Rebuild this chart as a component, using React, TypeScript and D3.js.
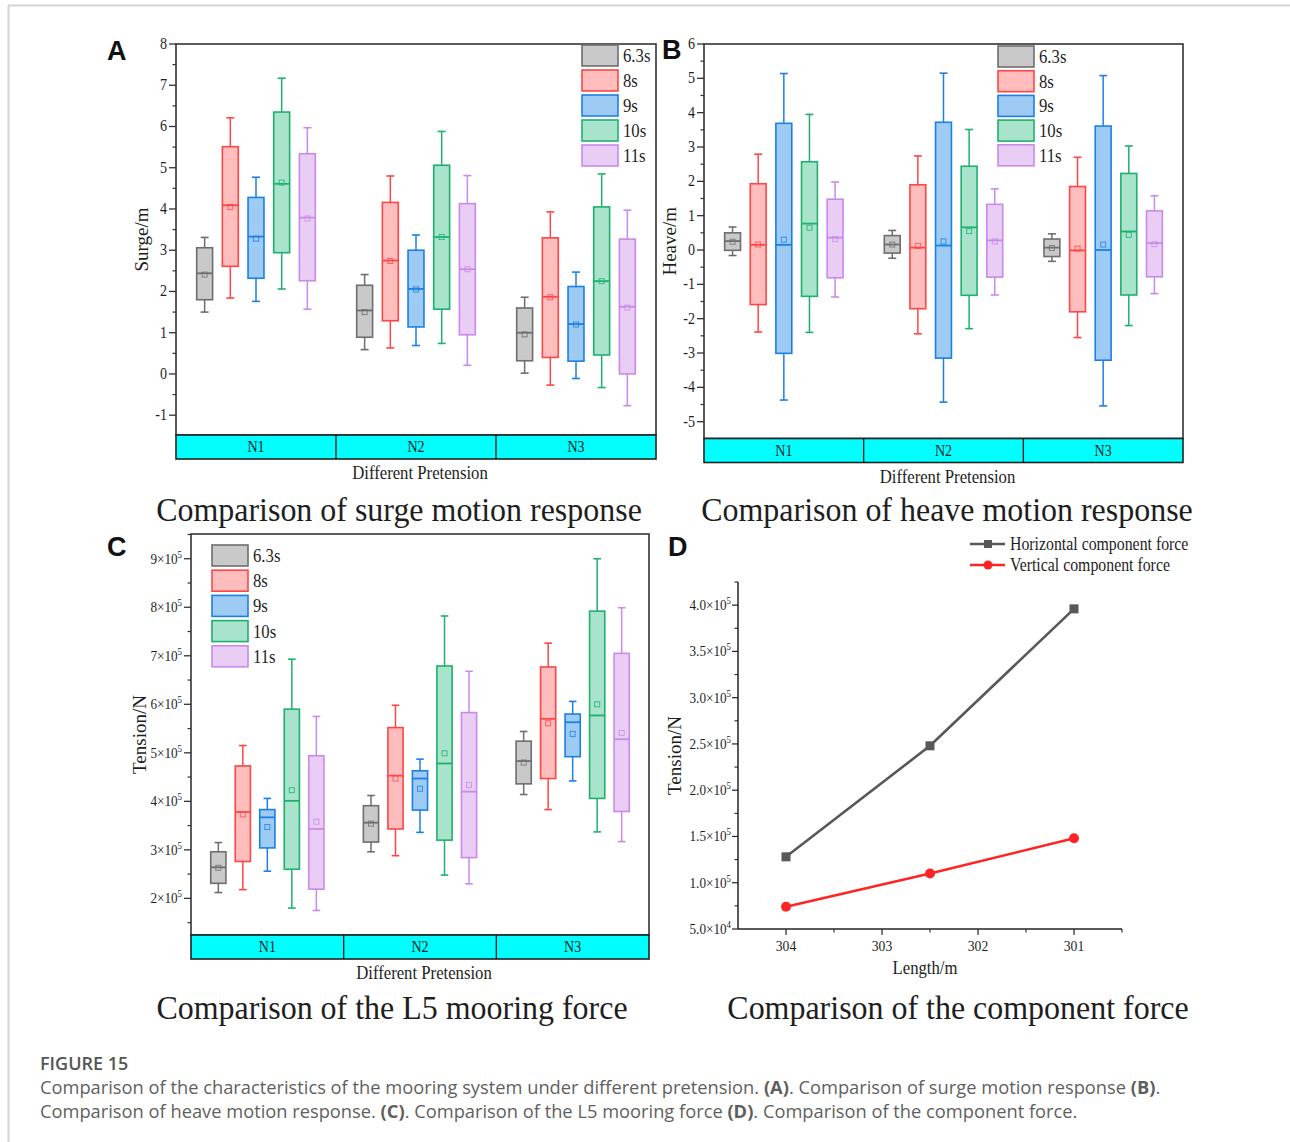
import React from "react";
import * as d3 from "d3";

// ---------- data ----------
const periods = ["6.3s", "8s", "9s", "10s", "11s"];
const groups = ["N1", "N2", "N3"];
const fills = ["#c9c9c9", "#ffbdbd", "#9ecbf4", "#a8e3cb", "#e9cdf5"];
const strokes = ["#6e6e6e", "#ff4646", "#1c7fe6", "#1fb070", "#c98aea"];

// each entry: [min, q1, median, q3, max, mean]
const surgeN1 = [
  [1.5, 1.8, 2.44, 3.06, 3.31, 2.41],
  [1.84, 2.61, 4.09, 5.51, 6.21, 4.05],
  [1.76, 2.32, 3.33, 4.28, 4.77, 3.28],
  [2.06, 2.94, 4.61, 6.35, 7.17, 4.64],
  [1.57, 2.26, 3.79, 5.34, 5.97, 3.77],
];
const surgeN2 = [
  [0.59, 0.89, 1.54, 2.15, 2.41, 1.5],
  [0.63, 1.29, 2.75, 4.16, 4.8, 2.74],
  [0.69, 1.14, 2.06, 3.0, 3.37, 2.05],
  [0.74, 1.57, 3.32, 5.06, 5.88, 3.32],
  [0.21, 0.95, 2.54, 4.13, 4.81, 2.54],
];
const surgeN3 = [
  [0.02, 0.32, 1.0, 1.6, 1.86, 0.96],
  [-0.27, 0.4, 1.87, 3.3, 3.93, 1.86],
  [-0.11, 0.31, 1.21, 2.12, 2.47, 1.2],
  [-0.33, 0.46, 2.25, 4.05, 4.85, 2.25],
  [-0.77, 0.0, 1.63, 3.27, 3.97, 1.61],
];

const heaveN1 = [
  [-0.16, -0.01, 0.26, 0.5, 0.67, 0.24],
  [-2.39, -1.59, 0.15, 1.93, 2.79, 0.16],
  [-4.37, -3.01, 0.15, 3.69, 5.14, 0.3],
  [-2.4, -1.35, 0.77, 2.57, 3.95, 0.65],
  [-1.37, -0.81, 0.36, 1.48, 1.98, 0.32],
];
const heaveN2 = [
  [-0.24, -0.09, 0.16, 0.42, 0.57, 0.16],
  [-2.44, -1.71, 0.07, 1.9, 2.74, 0.12],
  [-4.43, -3.15, 0.13, 3.72, 5.15, 0.25],
  [-2.29, -1.32, 0.66, 2.44, 3.51, 0.55],
  [-1.31, -0.79, 0.28, 1.33, 1.78, 0.25],
];
const heaveN3 = [
  [-0.33, -0.19, 0.07, 0.32, 0.47, 0.06],
  [-2.55, -1.8, -0.01, 1.85, 2.7, 0.04],
  [-4.54, -3.21, 0.0, 3.61, 5.08, 0.16],
  [-2.2, -1.31, 0.54, 2.23, 3.03, 0.44],
  [-1.27, -0.78, 0.2, 1.14, 1.58, 0.17],
];

const tensionN1 = [
  [212000, 231000, 264000, 296000, 315000, 263000],
  [218000, 276000, 378000, 473000, 515000, 373000],
  [256000, 304000, 367000, 383000, 406000, 347000],
  [180000, 260000, 401000, 590000, 693000, 423000],
  [175000, 219000, 343000, 494000, 575000, 358000],
];
const tensionN2 = [
  [296000, 316000, 356000, 391000, 412000, 354000],
  [288000, 343000, 453000, 552000, 598000, 447000],
  [336000, 382000, 447000, 463000, 487000, 426000],
  [248000, 320000, 478000, 679000, 782000, 499000],
  [230000, 284000, 420000, 583000, 668000, 434000],
];
const tensionN3 = [
  [414000, 436000, 483000, 524000, 544000, 480000],
  [383000, 447000, 570000, 677000, 726000, 561000],
  [442000, 492000, 563000, 580000, 606000, 539000],
  [337000, 406000, 577000, 792000, 900000, 600000],
  [317000, 379000, 528000, 705000, 799000, 541000],
];

const surgeTicks = [-1, 0, 1, 2, 3, 4, 5, 6, 7, 8];
const heaveTicks = [-5, -4, -3, -2, -1, 0, 1, 2, 3, 4, 5, 6];
const tensionTicks = [200000, 300000, 400000, 500000, 600000, 700000, 800000, 900000];

const lengths = [304, 302.5, 301];
const horizontalForce = [128000, 248000, 396000];
const verticalForce = [74000, 110000, 148000];
const lengthTicks = [304, 303, 302, 301];
const forceTicks = [50000, 100000, 150000, 200000, 250000, 300000, 350000, 400000];

// ---------- helpers ----------
const CX = 0.88;
const SERIF = "'Liberation Serif', 'Times New Roman', serif";
const INK = "#1e1e1e";

function CText({ x, y, size, anchor = "start", children, fill = INK, baseline = "auto", weight = "normal", family = SERIF, sx = CX }: any) {
  return (
    <text
      transform={`translate(${x},${y}) scale(${sx},1)`}
      fontSize={size}
      textAnchor={anchor}
      fontFamily={family}
      fill={fill}
      fontWeight={weight}
      dominantBaseline={baseline}
    >
      {children}
    </text>
  );
}

function sci(v: number, digits: number) {
  const e = Math.floor(Math.log10(v) + 1e-9);
  const m = v / Math.pow(10, e);
  return (
    <>
      {m.toFixed(digits)}×10
      <tspan dy={-6} fontSize={10}>{e}</tspan>
    </>
  );
}

function BoxPanel(props: any) {
  const {
    left, right, top, bottom, stripH, domain, major, minor, fmt, data,
    ylabel, ylabelX, legendX, legendY, legendStep, tickSize,
  } = props;
  const y = d3.scaleLinear().domain(domain).range([bottom, top]);
  const gx = d3.scaleBand<string>().domain(groups).range([left, right]);
  const bx = d3
    .scaleBand<string>()
    .domain(periods)
    .range([0, gx.bandwidth()])
    .paddingInner(0.38)
    .paddingOuter(0.805);
  const bw = bx.bandwidth();
  const cap = bw * 0.5;
  const minorIn = minor.filter((t: number) => t >= domain[0] && t <= domain[1]);

  return (
    <g>
      {/* boxes */}
      {groups.map((g, gi) =>
        periods.map((p, pi) => {
          const [mn, q1, md, q3, mx, mean] = data[gi][pi];
          const x0 = (gx(g) as number) + (bx(p) as number);
          const cx = x0 + bw / 2;
          const s = strokes[pi];
          return (
            <g key={g + p}>
              <line x1={cx} x2={cx} y1={y(mx)} y2={y(q3)} stroke={s} strokeWidth={1.5} />
              <line x1={cx} x2={cx} y1={y(q1)} y2={y(mn)} stroke={s} strokeWidth={1.5} />
              <line x1={cx - cap / 2} x2={cx + cap / 2} y1={y(mx)} y2={y(mx)} stroke={s} strokeWidth={1.6} />
              <line x1={cx - cap / 2} x2={cx + cap / 2} y1={y(mn)} y2={y(mn)} stroke={s} strokeWidth={1.6} />
              <rect x={x0} y={y(q3)} width={bw} height={y(q1) - y(q3)} fill={fills[pi]} stroke={s} strokeWidth={1.6} />
              <line x1={x0} x2={x0 + bw} y1={y(md)} y2={y(md)} stroke={s} strokeWidth={1.8} />
              <rect x={cx - 2.5} y={y(mean) - 2.5} width={5} height={5} fill="none" stroke={s} strokeWidth={1} opacity={0.8} />
            </g>
          );
        })
      )}
      {/* frame */}
      <rect x={left} y={top} width={right - left} height={bottom - top} fill="none" stroke="#333" strokeWidth={1.6} />
      {/* strip */}
      <rect x={left} y={bottom} width={right - left} height={stripH} fill="#00ffff" stroke="#222" strokeWidth={1.6} />
      {groups.slice(1).map((g) => (
        <line key={g} x1={gx(g)} x2={gx(g)} y1={bottom} y2={bottom + stripH} stroke="#222" strokeWidth={1.4} />
      ))}
      {groups.map((g) => (
        <CText key={g} x={(gx(g) as number) + gx.bandwidth() / 2} y={bottom + stripH / 2 + 5} size={16} anchor="middle">
          {g}
        </CText>
      ))}
      {/* y ticks */}
      {minorIn.map((t: number) => (
        <line key={"m" + t} x1={left - 3.5} x2={left} y1={y(t)} y2={y(t)} stroke="#333" strokeWidth={1.2} />
      ))}
      {major.map((t: number) => (
        <g key={"M" + t}>
          <line x1={left - 7} x2={left} y1={y(t)} y2={y(t)} stroke="#333" strokeWidth={1.3} />
          <CText x={left - 9} y={y(t) + 5} size={tickSize} anchor="end">
            {fmt(t)}
          </CText>
        </g>
      ))}
      {/* axis labels */}
      <text
        transform={`translate(${ylabelX},${(top + bottom) / 2}) rotate(-90)`}
        fontSize={19}
        textAnchor="middle"
        fontFamily={SERIF}
        fill={INK}
        dominantBaseline="central"
      >
        {ylabel}
      </text>
      <CText x={(left + right) / 2 + 4} y={bottom + stripH + 20} size={19} anchor="middle">
        Different Pretension
      </CText>
      {/* legend */}
      {periods.map((p, i) => (
        <g key={"lg" + p}>
          <rect x={legendX} y={legendY + i * legendStep} width={36} height={21} fill={fills[i]} stroke={strokes[i]} strokeWidth={1.6} />
          <CText x={legendX + 41} y={legendY + i * legendStep + 17} size={19}>
            {p}
          </CText>
        </g>
      ))}
    </g>
  );
}

function LinePanel() {
  const left = 738, right = 1122, top = 582, bottom = 929;
  const x = d3.scaleLinear().domain([304.5, 300.5]).range([left, right]);
  const y = d3.scaleLinear().domain([50000, 425000]).range([bottom, top]);
  const line = d3
    .line<number>()
    .x((_, i) => x(lengths[i]))
    .y((d) => y(d));
  const gray = "#585858";
  const red = "#ff2424";
  const xMinor = [303.5, 302.5, 301.5, 300.5];
  const yMinor = d3.range(75000, 430000, 50000);
  return (
    <g>
      <path d={line(horizontalForce) || ""} fill="none" stroke={gray} strokeWidth={2.6} />
      <path d={line(verticalForce) || ""} fill="none" stroke={red} strokeWidth={2.6} />
      {horizontalForce.map((v, i) => (
        <rect key={"h" + i} x={x(lengths[i]) - 4.5} y={y(v) - 4.5} width={9} height={9} fill={gray} />
      ))}
      {verticalForce.map((v, i) => (
        <circle key={"v" + i} cx={x(lengths[i])} cy={y(v)} r={5} fill={red} />
      ))}
      {/* axes */}
      <line x1={left} x2={left} y1={top} y2={bottom} stroke="#222" strokeWidth={1.5} />
      <line x1={left} x2={right} y1={bottom} y2={bottom} stroke="#222" strokeWidth={1.5} />
      {yMinor.map((t) => (
        <line key={"ym" + t} x1={left - 3.5} x2={left} y1={y(t)} y2={y(t)} stroke="#222" strokeWidth={1.1} />
      ))}
      {forceTicks.map((t) => (
        <g key={"yt" + t}>
          <line x1={left - 6} x2={left} y1={y(t)} y2={y(t)} stroke="#222" strokeWidth={1.2} />
          <CText x={left - 7} y={y(t) + 5} size={15} anchor="end">
            {sci(t, 1)}
          </CText>
        </g>
      ))}
      {xMinor.map((t) => (
        <line key={"xm" + t} x1={x(t)} x2={x(t)} y1={bottom} y2={bottom + 3.5} stroke="#222" strokeWidth={1.1} />
      ))}
      {lengthTicks.map((t) => (
        <g key={"xt" + t}>
          <line x1={x(t)} x2={x(t)} y1={bottom} y2={bottom + 6} stroke="#222" strokeWidth={1.2} />
          <CText x={x(t)} y={bottom + 22} size={15.5} anchor="middle">
            {t}
          </CText>
        </g>
      ))}
      <text
        transform={`translate(674,${(top + bottom) / 2}) rotate(-90)`}
        fontSize={19}
        textAnchor="middle"
        fontFamily={SERIF}
        fill={INK}
        dominantBaseline="central"
      >
        Tension/N
      </text>
      <CText x={925} y={974} size={19} anchor="middle">
        Length/m
      </CText>
      {/* legend */}
      <line x1={970} x2={1005} y1={544} y2={544} stroke={gray} strokeWidth={2.6} />
      <rect x={984} y={540} width={8} height={8} fill={gray} />
      <CText x={1010} y={550} size={18}>Horizontal component force</CText>
      <line x1={970} x2={1005} y1={565} y2={565} stroke={red} strokeWidth={2.6} />
      <circle cx={988} cy={565} r={4.5} fill={red} />
      <CText x={1010} y={571} size={18}>Vertical component force</CText>
    </g>
  );
}

const minorOf = (ticks: number[], half: number) => ticks.map((t) => t + half);

export default function App() {
  const LABEL = "'Liberation Sans', Arial, sans-serif";
  const CAP = "'Open Sans', 'Noto Sans', sans-serif";
  const TSX = 0.94;
  return (
    <svg
      width={1290}
      height={1142}
      viewBox="0 0 1290 1142"
      style={{ position: "absolute", left: 0, top: 0, background: "#fff" }}
    >
      <rect x={0} y={0} width={1290} height={1142} fill="#fff" />
      <line x1={8} x2={1290} y1={5.5} y2={5.5} stroke="#d4d4d4" strokeWidth={2} />
      <line x1={8.5} x2={8.5} y1={5} y2={1142} stroke="#d4d4d4" strokeWidth={2} />

      {/* Panel A */}
      <BoxPanel
        left={176} right={656} top={44} bottom={435} stripH={24}
        domain={[-1.48, 8]} major={surgeTicks} minor={minorOf(surgeTicks, 0.5)}
        fmt={(t: number) => String(t)} data={[surgeN1, surgeN2, surgeN3]}
        ylabel="Surge/m" ylabelX={141} legendX={582} legendY={45} legendStep={25} tickSize={16}
      />
      {/* Panel B */}
      <BoxPanel
        left={704} right={1183} top={44} bottom={438.5} stripH={24}
        domain={[-5.49, 6]} major={heaveTicks} minor={minorOf(heaveTicks, -0.5)}
        fmt={(t: number) => String(t)} data={[heaveN1, heaveN2, heaveN3]}
        ylabel="Heave/m" ylabelX={669} legendX={998} legendY={46} legendStep={24.7} tickSize={16}
      />
      {/* Panel C */}
      <BoxPanel
        left={191} right={649} top={534} bottom={935} stripH={24}
        domain={[124500, 951000]} major={tensionTicks} minor={minorOf(tensionTicks, -50000).concat([950000])}
        fmt={(t: number) => sci(t, 0)} data={[tensionN1, tensionN2, tensionN3]}
        ylabel="Tension/N" ylabelX={139} legendX={212} legendY={545} legendStep={25.2} tickSize={15}
      />
      {/* Panel D */}
      <LinePanel />

      {/* panel letters */}
      <text x={107} y={60} fontFamily={LABEL} fontWeight="bold" fontSize={27} fill="#111">A</text>
      <text x={662} y={59} fontFamily={LABEL} fontWeight="bold" fontSize={27} fill="#111">B</text>
      <text x={107} y={556} fontFamily={LABEL} fontWeight="bold" fontSize={27} fill="#111">C</text>
      <text x={668} y={556} fontFamily={LABEL} fontWeight="bold" fontSize={27} fill="#111">D</text>

      {/* panel titles */}
      <CText x={399} y={521} size={34} anchor="middle" sx={TSX}>Comparison of surge motion response</CText>
      <CText x={947} y={521} size={34} anchor="middle" sx={TSX}>Comparison of heave motion response</CText>
      <CText x={392} y={1019} size={34} anchor="middle" sx={TSX}>Comparison of the L5 mooring force</CText>
      <CText x={958} y={1019} size={34} anchor="middle" sx={TSX}>Comparison of the component force</CText>

      {/* caption */}
      <text x={40} y={1070} fontFamily={CAP} fontWeight={600} fontSize={18} fill="#555">FIGURE 15</text>
      <text x={40} y={1094} fontFamily={CAP} fontSize={18.3} fill="#5f5f5f">
        Comparison of the characteristics of the mooring system under different pretension.{" "}
        <tspan fontWeight={700}>(A)</tspan>. Comparison of surge motion response <tspan fontWeight={700}>(B)</tspan>.
      </text>
      <text x={40} y={1118} fontFamily={CAP} fontSize={18.3} fill="#5f5f5f">
        Comparison of heave motion response. <tspan fontWeight={700}>(C)</tspan>. Comparison of the L5 mooring force{" "}
        <tspan fontWeight={700}>(D)</tspan>. Comparison of the component force.
      </text>
    </svg>
  );
}
